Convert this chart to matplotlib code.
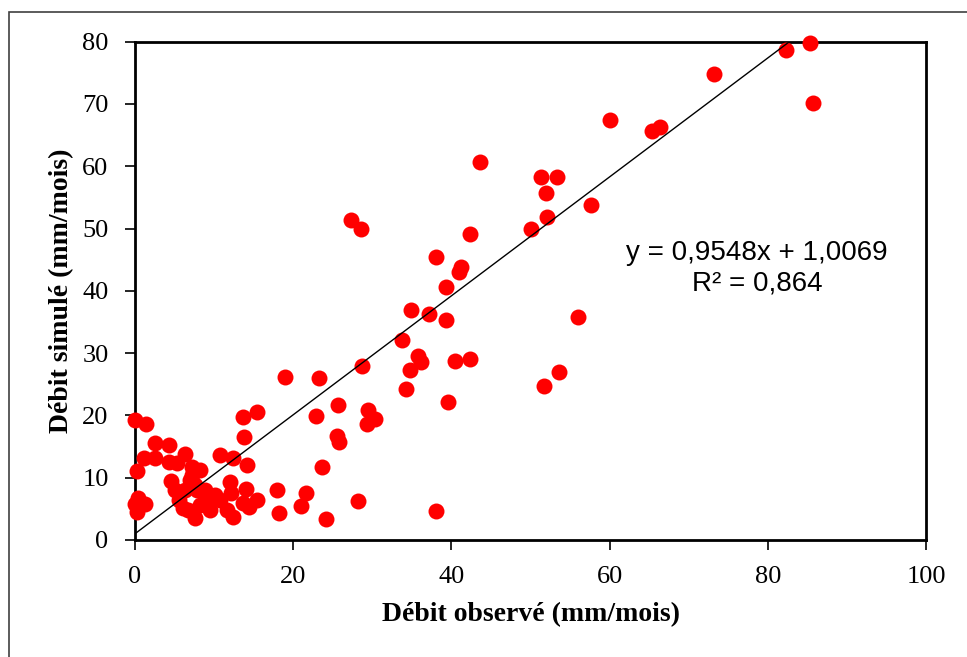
import numpy as np
import matplotlib
matplotlib.use("Agg")
import matplotlib.pyplot as plt
from matplotlib.patches import Rectangle

obs = [85.3, 82.3, 85.7, 73.2, 60.1, 65.4, 66.4, 57.7, 51.3, 53.4,
       52.0, 52.1, 50.1, 56.0, 53.6, 51.7, 43.6, 42.4, 38.1, 40.9,
       41.2, 39.3, 34.9, 37.2, 39.3, 33.8, 35.8, 36.2, 34.8, 40.5,
       42.3, 27.3, 28.6, 28.7, 19.0, 23.2, 34.3, 39.6, 38.1, 22.9,
       25.7, 29.4, 30.4, 29.3, 25.6, 25.8, 23.6, 21.6, 21.0, 28.2,
       24.1, 18.0, 18.2, 15.4, 13.6, 13.8, 10.8, 12.4, 14.2, 12.0,
       14.0, 12.1, 15.4, 13.7, 14.4, 12.4, 10.7, 9.1, 11.6, 8.6,
       0.0, 1.4, 2.5, 4.3, 6.3, 1.2, 2.5, 4.3, 5.3, 7.2,
       0.2, 4.6, 7.2, 0.4, 1.3, 0.0, 0.3, 5.5, 6.1, 7.6,
       8.8, 7.0, 7.8, 9.3, 8.2, 7.6, 6.3, 8.8, 8.2, 6.7,
       5.1, 9.5, 10.1]
sim = [79.8, 78.6, 70.2, 74.8, 67.4, 65.6, 66.3, 53.8, 58.3, 58.3,
       55.7, 51.9, 50.0, 35.8, 27.0, 24.7, 60.7, 49.2, 45.5, 43.1,
       43.8, 40.6, 36.9, 36.3, 35.4, 32.1, 29.6, 28.5, 27.3, 28.8,
       29.1, 51.3, 49.9, 27.9, 26.2, 26.0, 24.2, 22.2, 4.7, 19.9,
       21.7, 20.9, 19.5, 18.6, 16.7, 15.7, 11.8, 7.5, 5.5, 6.2,
       3.3, 8.0, 4.4, 20.5, 19.7, 16.6, 13.6, 13.2, 12.0, 9.3,
       8.2, 7.5, 6.4, 5.9, 5.3, 3.7, 6.4, 6.1, 4.8, 7.8,
       19.3, 18.6, 15.6, 15.2, 13.8, 13.1, 13.1, 12.6, 12.3, 11.8,
       11.1, 9.5, 10.4, 6.7, 5.7, 5.7, 4.5, 6.4, 5.1, 3.5,
       5.6, 9.6, 8.0, 6.4, 11.2, 8.8, 8.0, 8.0, 5.6, 4.8,
       8.0, 4.8, 7.2]

slope, intercept, r2 = 0.9548, 1.0069, 0.864

x_ticks = [0, 20, 40, 60, 80, 100]
y_ticks = [0, 10, 20, 30, 40, 50, 60, 70, 80]

W, H = 967, 657
fig = plt.figure(figsize=(W / 100, H / 100), dpi=100)
# chart-area frame, cut off at right/bottom like the source screenshot
fig.patches.append(Rectangle((9 / W, -0.1), 1.2, 1.1 - 12 / H, transform=fig.transFigure,
                             fill=False, edgecolor="#404040", lw=1.2))

ax = fig.add_axes([135 / W, 1 - 540 / H, (926 - 135) / W, (540 - 41.7) / H])
ax.plot(obs, sim, "o", color="red", ms=11.5, mew=0, zorder=3, clip_on=False)

xs = np.array([0, max(obs)])
ax.plot(xs, slope * xs + intercept, color="black", lw=1.0, zorder=4)

ax.set_xlim(0, 100)
ax.set_ylim(0, 80)
ax.set_xticks(x_ticks)
ax.set_yticks(y_ticks)
for s in ax.spines.values():
    s.set_linewidth(2)
ax.tick_params(direction="out", length=7, width=1.2)
ax.tick_params(axis="x", pad=12)
ax.tick_params(axis="y", pad=12)
for lab in ax.get_xticklabels() + ax.get_yticklabels():
    lab.set_fontfamily("Liberation Serif")
    lab.set_fontsize(19)

ax.set_xlabel("Débit observé (mm/mois)", fontfamily="Liberation Serif",
              fontweight="bold", fontsize=20, labelpad=10)
ax.set_ylabel("Débit simulé (mm/mois)", fontfamily="Liberation Serif",
              fontweight="bold", fontsize=20, labelpad=6)

eq = f"y = {slope:.4f}x + {intercept:.4f}".replace(".", ",")
r2_txt = f"R² = {r2:.3f}".replace(".", ",")
ax.text(757, H - 253, eq, transform=None, ha="center", va="center",
        fontfamily="Liberation Sans", fontsize=20)
ax.text(757, H - 283, r2_txt, transform=None, ha="center", va="center",
        fontfamily="Liberation Sans", fontsize=20)

fig.savefig("out.png", dpi=100)
